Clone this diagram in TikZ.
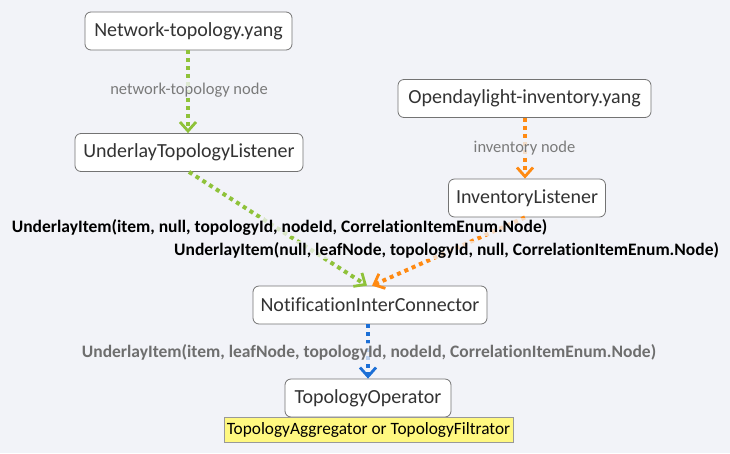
\documentclass[tikz,border=0pt]{standalone}
\usepackage{fontspec}
\setmainfont{Carlito}[Ligatures={NoCommon}]
\usetikzlibrary{arrows.meta}
\definecolor{bg}{HTML}{F2F3F8}
\definecolor{gre}{HTML}{8FC23A}
\definecolor{ora}{HTML}{FF8A12}
\definecolor{blu}{HTML}{1C6FD6}
\definecolor{txt}{HTML}{333333}
\definecolor{lbl}{HTML}{7A7A7A}
\tikzset{
  topic/.style={draw=black!55, line width=0.8pt, fill=white, rounded corners=6pt, inner sep=0pt,
    minimum height=38pt, font=\fontsize{20}{24}\selectfont, text=txt},
  conn/.style={line width=4pt, dash pattern=on 4pt off 4pt,
    -{Straight Barb[length=9pt,width=16pt,line width=2.8pt]}},
  rellabel/.style={fill=bg, fill opacity=0.8, text opacity=1, inner sep=1pt, font=\fontsize{16.5}{19}\selectfont, text=lbl},
  boldlabel/.style={fill=bg, fill opacity=0.75, text opacity=1, inner sep=1pt, font=\bfseries\fontsize{17.5}{20}\selectfont, text=black},
  note/.style={draw=black!40, line width=0.6pt, fill=yellow!50, inner sep=0pt, minimum height=25pt,
    font=\fontsize{17.3}{20}\selectfont, text=black}
}
\begin{document}
\begin{tikzpicture}[x=1pt,y=-1pt]
\fill[bg] (0,0) rectangle (730,453);
\useasboundingbox (0,0) rectangle (730,453);

\node[topic, minimum width=207pt] (nt) at (188.5,31) {Network-topology.yang};
\node[topic, minimum width=228pt] (utl) at (189,152.5) {UnderlayTopologyListener};
\node[topic, minimum width=253pt] (oi) at (524.5,98.5) {Opendaylight-inventory.yang};
\node[topic, minimum width=157pt] (il) at (527,198) {InventoryListener};
\node[topic, minimum width=234pt] (nic) at (370,305) {NotificationInterConnector};
\node[topic, minimum width=166pt] (to) at (368,398) {TopologyOperator};
\node[note, minimum width=289pt] (nb) at (368.5,429.5) {TopologyAggregator or TopologyFiltrator};

\coordinate (gend) at ([xshift=-3pt]nic.north);
\coordinate (oend) at ([xshift=2pt]nic.north);

\draw[conn, gre] (nt.south -| 188,0) -- (utl.north -| 188,0);
\draw[conn, ora] (oi.south -| 525,0) -- (il.north -| 525,0);
\draw[conn, gre] (utl.south) -- (gend);
\draw[conn, ora] ([xshift=-2pt]il.south) -- (oend);
\draw[conn, blu] (to.north |- nic.south) -- (to.north);

\node[rellabel] (l1) at (189,90) {network-topology node};
\node[rellabel] (l2) at (524.5,148) {inventory node};
\node[boldlabel] (l3) at (279.5,227) {UnderlayItem(item, null, topologyId, nodeId, CorrelationItemEnum.Node)};
\node[boldlabel] (l4) at (446.5,250) {UnderlayItem(null, leafNode, topologyId, null, CorrelationItemEnum.Node)};
\node[boldlabel, text=lbl!90!black] (l5) at (369,352) {UnderlayItem(item, leafNode, topologyId, nodeId, CorrelationItemEnum.Node)};
\end{tikzpicture}
\end{document}
